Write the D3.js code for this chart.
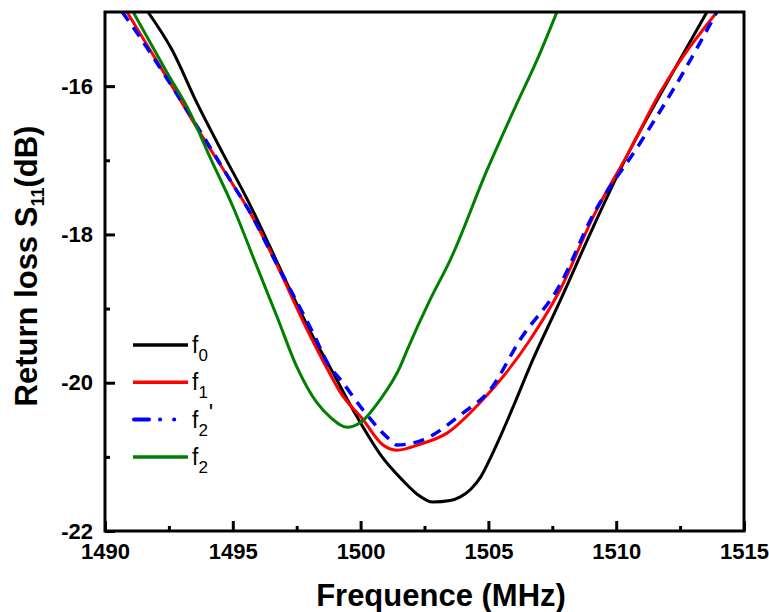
<!DOCTYPE html>
<html>
<head>
<meta charset="utf-8">
<script src="https://cdn.jsdelivr.net/npm/d3@7"></script>
<style>
  body { margin: 0; background: #fff; }
  svg { display: block; font-family: "Liberation Sans", Arial, sans-serif; }
  .tick text { font-size: 22px; font-weight: bold; fill: #000; }
  .axis-title { font-size: 31px; font-weight: bold; fill: #000; }
  .legend-label { font-size: 23px; fill: #000; }
</style>
</head>
<body>
<svg id="chart" width="769" height="612" viewBox="0 0 769 612"></svg>
<script>
/* ── data ────────────────────────────────────────────────────────────────── */

const xTicks = [1490, 1495, 1500, 1505, 1510, 1515];
const xMinor = [1492.5, 1497.5, 1502.5, 1507.5, 1512.5];
const yTicks = [-22, -20, -18, -16];
const yMinor = [-21, -19, -17];

// f0 (black)
const freqF0 = [1491.68, 1492.62, 1493.6, 1494.6, 1495.6, 1496.5, 1497.12, 1498.14, 1498.8, 1499.86,
  1500.84, 1501.6, 1502.2, 1502.83, 1503.5, 1503.9, 1504.3, 1504.7, 1505.1, 1505.5,
  1506.0, 1506.7, 1507.8, 1509.1, 1510.54, 1511.83, 1513.55];
const s11F0 = [-15.0, -15.51, -16.23, -16.9, -17.55, -18.2, -18.66, -19.38, -19.79, -20.46,
  -21.0, -21.3, -21.5, -21.61, -21.59, -21.54, -21.44, -21.27, -21.0, -20.7,
  -20.3, -19.72, -18.9, -17.9, -16.86, -16.05, -15.0];

// f1 (red)
const freqF1 = [1490.86, 1492.43, 1493.72, 1495.01, 1495.67, 1496.57, 1497.9, 1498.8, 1499.19, 1500.1,
  1500.84, 1501.42, 1502.32, 1503.38, 1504.67, 1505.57, 1506.63, 1507.8, 1509.09, 1510.54,
  1511.71, 1513.94];
const s11F1 = [-15.0, -15.89, -16.63, -17.33, -17.7, -18.3, -19.28, -19.88, -20.12, -20.5,
  -20.83, -20.91, -20.83, -20.68, -20.27, -19.92, -19.42, -18.75, -17.77, -16.86,
  -16.09, -15.0];

// f2' (blue, dashed)
const freqF2p = [1490.67, 1491.25, 1492.43, 1495.01, 1495.67, 1496.57, 1498.14, 1498.8, 1499.19, 1500.1,
  1501.15, 1501.42, 1502.44, 1504.0, 1505.06, 1506.24, 1507.8, 1509.09, 1510.93, 1512.38,
  1513.94];
const s11F2p = [-15.0, -15.28, -15.9, -17.33, -17.7, -18.3, -19.33, -19.79, -19.95, -20.37,
  -20.77, -20.84, -20.77, -20.41, -20.1, -19.42, -18.68, -17.74, -16.77, -15.96,
  -15.0];

// f2 (green)
const freqF2 = [1491.1, 1492.43, 1493.33, 1494.11, 1495.01, 1495.95, 1496.73, 1497.51, 1498.29, 1498.8,
  1499.47, 1499.98, 1500.76, 1501.54, 1501.82, 1502.72, 1503.5, 1504.95, 1506.12, 1506.9,
  1507.68];
const s11F2 = [-15.0, -15.82, -16.36, -16.96, -17.63, -18.44, -19.11, -19.79, -20.27, -20.46,
  -20.6, -20.54, -20.23, -19.79, -19.56, -18.88, -18.35, -17.13, -16.23, -15.65,
  -15.0];

const series = [
  { name: "f", sub: "0", prime: "", color: "#000000", freq: freqF0, s11: s11F0, dash: null },
  { name: "f", sub: "1", prime: "", color: "#ff0000", freq: freqF1, s11: s11F1, dash: null },
  { name: "f", sub: "2", prime: "'", color: "#0000ff", freq: freqF2p, s11: s11F2p, dash: "11,8" },
  { name: "f", sub: "2", prime: "", color: "#008000", freq: freqF2, s11: s11F2, dash: null },
];

/* ── layout ──────────────────────────────────────────────────────────────── */

const svg = d3.select("#chart");
const m = { top: 12, right: 25, bottom: 81, left: 105 };
const W = 769 - m.left - m.right;
const H = 612 - m.top - m.bottom;

const x = d3.scaleLinear().domain([1490, 1515]).range([0, W]);
const y = d3.scaleLinear().domain([-22, -15]).range([H, 0]);

const g = svg.append("g").attr("transform", `translate(${m.left},${m.top})`);

svg.append("clipPath").attr("id", "plot-clip")
  .append("rect").attr("x", 0).attr("y", 0).attr("width", W).attr("height", H);

// curves
const line = d3.line()
  .x((d) => x(d[0]))
  .y((d) => y(d[1]))
  .curve(d3.curveMonotoneX);

const curves = g.append("g").attr("clip-path", "url(#plot-clip)");
series.forEach((s) => {
  curves.append("path")
    .datum(s.freq.map((f, i) => [f, s.s11[i]]))
    .attr("d", line)
    .attr("fill", "none")
    .attr("stroke", s.color)
    .attr("stroke-width", s.dash ? 3.5 : 3)
    .attr("stroke-dasharray", s.dash)
    .attr("stroke-linejoin", "round");
});

// axes: major + minor ticks point inward, plain hyphen for negatives
const fmt = (d) => String(d);
const styleAxis = (sel) => {
  sel.select(".domain").remove();
  sel.selectAll(".tick line").attr("stroke", "#000").attr("stroke-width", 3);
};

g.append("g").attr("transform", `translate(0,${H})`)
  .call(d3.axisBottom(x).tickValues(xTicks).tickSize(-10).tickPadding(12).tickFormat(fmt))
  .call(styleAxis);
g.append("g").attr("transform", `translate(0,${H})`)
  .call(d3.axisBottom(x).tickValues(xMinor).tickSize(-5).tickFormat(""))
  .call(styleAxis);
g.append("g")
  .call(d3.axisLeft(y).tickValues(yTicks).tickSize(-10).tickPadding(12).tickFormat(fmt))
  .call(styleAxis);
g.append("g")
  .call(d3.axisLeft(y).tickValues(yMinor).tickSize(-5).tickFormat(""))
  .call(styleAxis);

g.selectAll(".tick text").attr("font-family", null).attr("font-size", null);

// frame
g.append("rect")
  .attr("x", 0).attr("y", 0).attr("width", W).attr("height", H)
  .attr("fill", "none").attr("stroke", "#000").attr("stroke-width", 3);

// axis titles
svg.append("text")
  .attr("class", "axis-title")
  .attr("x", 441)
  .attr("y", 606)
  .attr("text-anchor", "middle")
  .text("Frequence (MHz)");

const yt = svg.append("text")
  .attr("class", "axis-title")
  .attr("transform", "rotate(-90)")
  .attr("x", -266)
  .attr("y", 37)
  .attr("text-anchor", "middle");
yt.append("tspan").text("Return loss S");
yt.append("tspan").attr("font-size", "18px").attr("dy", 7).text("11");
yt.append("tspan").attr("dy", -7).text("(dB)");

// legend
const legend = svg.append("g").attr("transform", "translate(133,345)");
series.forEach((s, i) => {
  const row = legend.append("g").attr("transform", `translate(0,${i * 37.3})`);
  if (s.dash) {
    row.append("line")
      .attr("x1", 1).attr("x2", 44).attr("y1", 0).attr("y2", 0)
      .attr("stroke", s.color).attr("stroke-width", 4)
      .attr("stroke-linecap", "round")
      .attr("stroke-dasharray", "15,11,0.1,14,0.1,60");
  } else {
    row.append("line")
      .attr("x1", 0).attr("x2", 55).attr("y1", 0).attr("y2", 0)
      .attr("stroke", s.color).attr("stroke-width", 3.5);
  }
  const t = row.append("text")
    .attr("class", "legend-label")
    .attr("x", 59)
    .attr("y", 8);
  t.append("tspan").text(s.name);
  t.append("tspan").attr("font-size", "17px").attr("dy", 8).text(s.sub);
  if (s.prime) t.append("tspan").attr("dy", -15).attr("dx", 1).text(s.prime);
});
</script>
</body>
</html>
